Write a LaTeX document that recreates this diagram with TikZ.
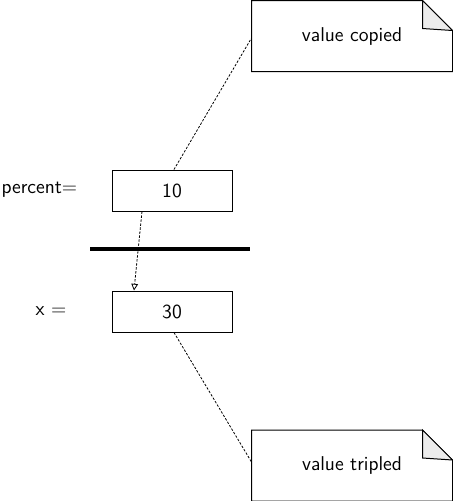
\documentclass[tikz,border=0pt]{standalone}
\usetikzlibrary{arrows.meta}

\tikzset{every picture/.style={line width=0.75pt}}
\tikzset{
  valbox/.style={draw, minimum width=90pt, minimum height=30.75pt, inner sep=0.75pt},
  note/.style={minimum width=150pt, minimum height=52.5pt, inner sep=0.75pt},
  hint/.style={line width=0.6pt, dash pattern={on 1.8pt off 1.2pt}},
}

\begin{document}
\begin{tikzpicture}[x=0.75pt,y=0.75pt,yscale=-1,xscale=1,font=\sffamily\fontsize{15}{18}\selectfont]
\useasboundingbox (0,0) rectangle (453,501);

% Value boxes
\node [valbox] (ten) at (172,190.5) {10};
\node [valbox] (thirty) at (172,311.5) {30};

% Text Node
\node [anchor=west, inner sep=0.75pt] (percent) at (0,190) {percent=};
% Text Node
\node [inner sep=0.75pt] (xlabel) at (51,311) {x =};

% Notes
\node [note] (copied) at (352,36) {value copied};
\node [note] (tripled) at (352,465.5) {value tripled};
\foreach \n in {copied,tripled}{
  \draw (\n.north west) -- ([xshift=-22.5pt]\n.north east) -- ([yshift=22.5pt]\n.north east) -- (\n.south east) -- (\n.south west) -- cycle;
  \draw [fill=gray!15] ([xshift=-22.5pt]\n.north east) -- ([xshift=-22.5pt,yshift=21pt]\n.north east) -- ([yshift=22.5pt]\n.north east) -- cycle;
}

%Straight Lines
\draw [line width=3pt] (90,249) -- (250,249);

% Connectors
\draw [hint, -{Triangle[open,length=5pt,width=5pt]}] ([xshift=-22.5pt]ten.south) -- ([xshift=-28.5pt]thirty.north);
\draw [hint] ([xshift=1.5pt]ten.north) -- ([yshift=1.5pt]copied.west);
\draw [hint] ([xshift=1.5pt]thirty.south) -- ([yshift=-2.6pt]tripled.west);

\end{tikzpicture}
\end{document}
